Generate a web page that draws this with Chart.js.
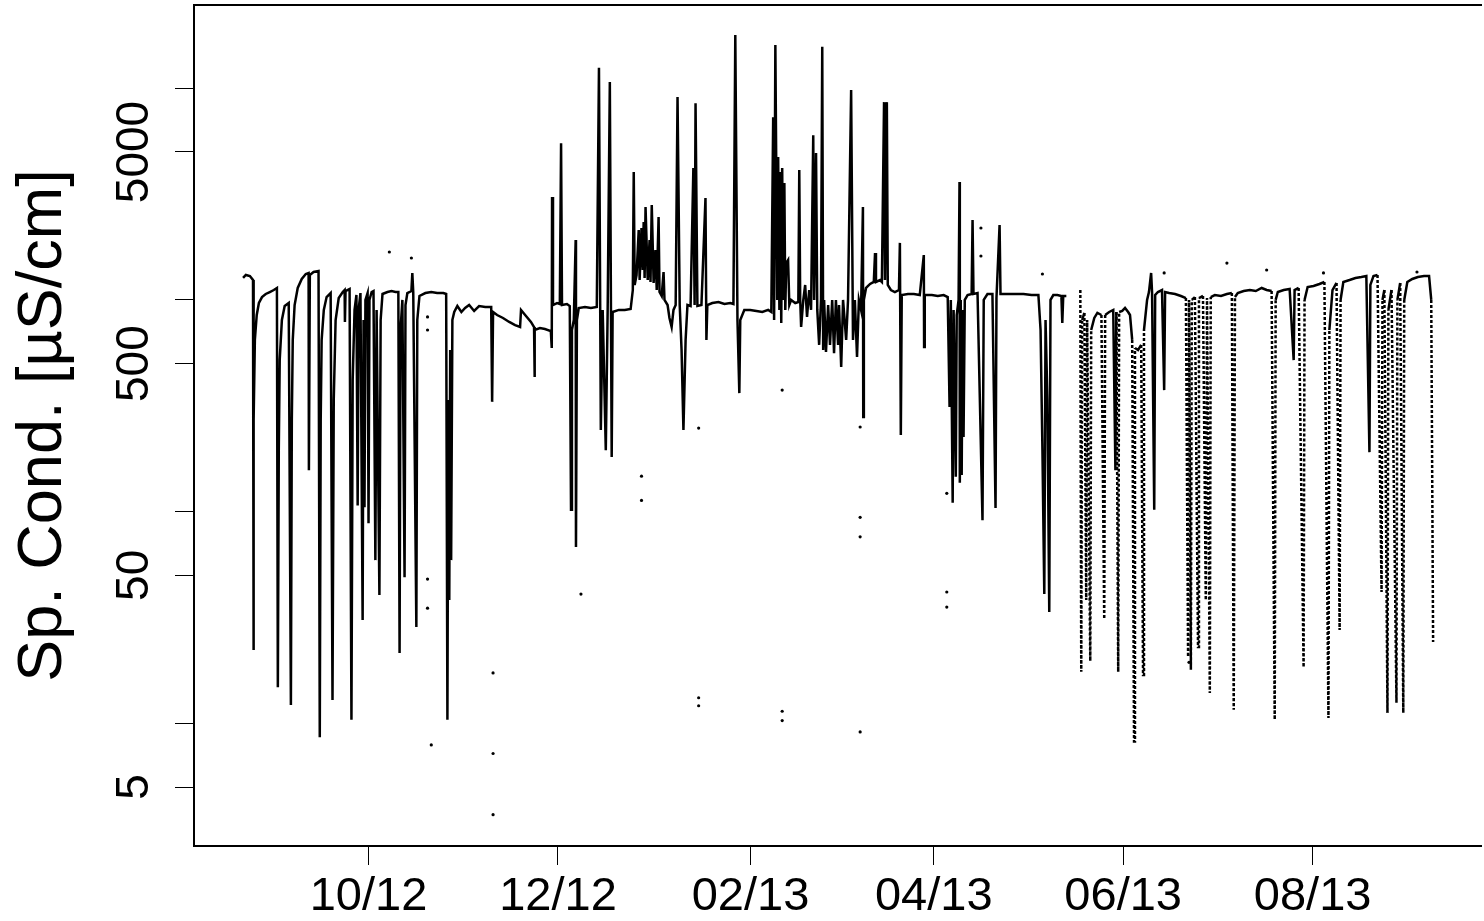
<!DOCTYPE html>
<html><head><meta charset="utf-8">
<script src="https://cdn.jsdelivr.net/npm/chart.js@4.4.1/dist/chart.umd.min.js"></script>
<style>html,body{margin:0;padding:0;background:#fff;overflow:hidden}canvas{display:block}</style>
</head><body>
<canvas id="c" width="1484" height="921"></canvas>
<script>
// x values: days since 2012-10-01; y values: specific conductance [µS/cm]
const tickDays = [0, 61, 123, 182, 243, 304];
const tickLabels = ['10/12', '12/12', '02/13', '04/13', '06/13', '08/13'];
const yTickValues = [5, 10, 50, 100, 500, 1000, 5000, 10000];
const yLabelValues = [5, 50, 500, 5000];

const autumnDays = [-40.4,-39.5,-38.2,-37.2,-37.1,-36.9,-36.6,-36.0,-35.3,-34.3,
-33.1,-31.8,-30.5,-29.5,-29.2,-28.9,-28.6,-27.9,-27.0,-25.7,
-25.0,-24.7,-24.4,-23.8,-22.8,-21.5,-20.2,-19.3,-19.2,-18.9,
-17.7,-16.1,-15.7,-15.4,-15.1,-14.4,-13.5,-12.2,-11.6,-11.2,
-10.6,-9.6,-8.3,-7.7,-7.6,-7.4,-6.1,-5.5,-5.1,-4.5,
-3.9,-3.5,-3.2,-2.6,-1.9,-1.6,-1.3,-1.0,-0.3,0,
0.3,1.0,1.6,2.2,2.6,3.5,3.9,4.5,6.1,7.4,
8.7,9.6,10.0,10.3,10.9,11.6,11.9,12.5,13.8,14.1,
14.4,15.4,15.7,16.4,18.3,20.2,22.1,24.1,25.0,25.4,
25.7,26.0,26.3,26.6,27.0,27.6,28.6,29.9,31.1,32.4,
34.0,35.6,37.6,39.5,39.8,40.1,41.4,43.3,45.3,47.2,
48.8,49.1,50.7,52.3,53.3,53.4,53.6,55.2,56.8,58.7];
const autumnSpc = [1270,1312,1297,1242,22.2,271,647,849,967,1032,
1067,1090,1114,1139,14.8,195,520,804,936,967,
12.2,271,647,946,1139,1256,1326,1341,157,1312,
1355,1370,8.6,271,647,897,1032,1078,12.9,337,
804,1021,1090,1114,787,1102,1127,10.4,419,897,
1055,107,897,1078,30.8,804,105,1000,1078,88,
1000,1090,1102,59,897,40.4,804,1067,1090,1102,
1090,1090,21.5,721,1000,49,946,1078,1102,1341,
1090,28.5,804,1044,1078,1090,1078,1078,1067,10.4,
337,38.2,580,59,804,877,936,877,916,946,
887,936,926,926,330,877,849,822,787,761,
745,897,840,787,745,432,721,737,729,713];

const winterDays = [59.0,59.1,59.4,60.7,61.6,62.0,62.3,63.9,64.8,65.2,
65.5,66.1,66.7,66.8,67.1,67.7,69.7,71.6,73.5,74.2,
74.8,75.4,76.4,77.0,77.7,78.3,78.6,80.6,82.5,84.4,
85.1,85.4,85.7,86.3,87.0,87.3,87.9,88.3,88.6,88.9,
89.2,89.9,90.5,90.8,91.2,91.8,92.4,92.8,93.4,93.7,
94.4,95.0,95.3,96.3,96.9,97.6,98.2,98.9,99.5,100.2,
100.8,101.4,102.1,102.7,103.7,104.6,105.0,105.3,105.9,107.2,
108.5,108.8,109.1,110.7,112.7,114.6,116.5,117.5,118.1,118.8,
119.4,119.7,121.0,122.9,124.9,126.8,128.7,129.7,130.3,130.6,
131.0,131.6,131.9,132.3,132.6,132.9,133.2,133.5,133.9,134.2,
134.5,135.1,135.5,136.1,137.4,138.4,138.7,139.0,139.3,140.0,
140.6,141.2,141.9,142.5,143.2,143.5,144.1,144.5,145.1,145.7,
146.1,146.4,146.7,147.3,148.0,148.6,149.3,149.9,150.5,151.2,
151.5,152.2,152.8,153.8,154.4,155.4,156.0,156.6,157.3,157.9,
158.6,159.2,159.3,159.5,160.2,161.5,162.7,163.1,163.4,164.7,
165.3,166.0,166.3,166.9,167.2,168.2,169.5,170.8];
const winterSpc = [593,3065,946,967,957,5500,946,957,936,102,
721,804,1920,68,804,916,926,916,926,12500,
243,897,195,897,10700,181,877,897,897,906,
1114,4020,1177,1312,2140,1242,2187,1385,2335,1270,
2750,1242,1920,1216,2810,1203,1722,1114,2465,1090,
1044,1355,1000,946,822,745,897,946,9100,946,
580,243,647,946,936,4200,946,8500,936,946,
3030,647,946,967,978,957,967,957,17850,804,
363,804,897,897,887,877,897,877,7300,804,
16000,1000,4730,897,4020,778,4200,1000,3570,897,
1494,1544,946,1000,967,978,4110,1000,745,1000,
1177,831,1114,897,6000,1000,4950,897,613,1000,
15700,580,1000,568,946,613,1000,561,1000,613,
946,482,1000,647,1000,9800,647,1000,538,1000,
897,2750,280,1000,1139,1190,1216,1667,1216,1242,
1216,8600,1242,8600,1177,1114,1090,1114];

const springDays = [171.1,171.4,171.7,173.7,175.6,177.5,178.8,178.9,179.1,181.4,
183.3,185.2,186.5,187.1,187.5,188.1,188.4,189.1,189.4,190.0,
190.3,190.4,190.7,191.0,191.3,191.6,192.0,192.9,194.2,194.5,
194.8,196.1,197.7,198.1,199.3,200.9,201.9,202.2,203.2,203.5,
205.8,208.3,210.9,213.5,215.7,216.4,217.0,217.6,218.0,218.6,
219.2,219.6,220.5,221.8,223.1,223.4,223.7,224.7];
const springSpc = [1860,230,1055,1067,1067,1055,1630,600,1055,1055,
1044,1055,1032,312,1000,110,897,146,849,1000,
3610,137,1000,149,897,225,1000,1055,1067,2385,
1067,1078,91,1000,1067,1067,104,1021,2260,1067,
1067,1067,1067,1055,1055,721,195,40.8,804,337,
33.6,1000,1055,1055,1044,778,1044,1044];

const summerDays = [229.2,229.5,229.8,230.5,231.1,231.4,232.4,232.7,233.7,234.7,
236.0,236.9,237.2,238.5,239.8,240.5,240.8,241.4,241.7,242.7,
243.6,244.6,245.2,245.9,246.5,246.8,247.8,248.8,249.4,249.7,
250.7,251.3,252.0,252.3,253.0,253.3,254.2,255.5,256.2,256.5,
257.8,259.7,261.6,263.2,263.9,264.2,264.8,265.1,266.1,267.1,
267.4,268.7,269.6,270.0,270.9,271.2,272.5,274.5,276.4,278.0,
278.6,279.0,279.9,281.8,283.8,285.7,287.6,289.2,290.8,291.8,
292.1,292.8,294.7,296.6,297.9,298.2,299.5,301.1,301.4,302.4,
304.3,306.2,307.8,309.1,309.4,310.4,311.7,312.7,313.0,313.9,
315.9,317.8,319.7,321.3,322.3,322.6,323.6,324.9,326.2,326.5,
327.1,328.1,328.4,329.4,331.0,331.3,332.2,333.2,333.5,334.5,
336.1,337.9,339.9,341.5,342.2,342.8];
const summerSpc = [1114,17.5,804,868,38.2,804,19.7,721,822,868,
849,31.1,849,877,897,157,877,17.5,877,887,
916,877,849,647,8.2,593,580,613,16.9,721,
1000,1090,1341,1090,102,1055,1090,1114,375,1090,
1078,1067,1044,1021,20.6,1000,17.9,1000,1032,22.9,
1021,1044,38.2,1021,13.9,1032,1055,1044,1067,1078,
11.6,1032,1078,1102,1114,1102,1139,1114,1102,10.4,
1000,1090,1114,1127,520,1114,1139,18.4,1000,1151,
1164,1190,1216,10.6,721,1114,1203,27.6,1000,1216,
1242,1270,1283,1297,191,1177,1297,1312,41.7,1000,
1114,11.2,897,1114,12.5,1000,1203,11.2,1000,1216,
1256,1283,1297,1297,1000,24.2];

const dotDays = [6.7,13.8,19.0,19.0,19.0,19.0,20.2,40.1,40.1,40.1,68.4,87.9,87.9,106.3,106.3,106.3,133.2,133.2,133.2,158.3,158.3,158.3,158.3,186.2,186.2,186.2,197.2,197.2,217.0,256.2,264.2,276.4,289.2,307.5,337.6];
const dotSpc = [1685,1578,831,721,48,35,7.9,17.3,7.2,3.7,40.8,147,113,248,13.2,12.1,375,11.4,10.3,251,94,76,9.1,41.7,35.4,122,2187,1613,1326,1341,19.4,1494,1385,1341,1355];

const FONT = "'Liberation Sans', Arial, Helvetica, sans-serif";
const xMin = -56.2, xMax = 357.9, yMin = 2.632, yMax = 24740;

function pairs(d, v) { return d.map((x, i) => ({x: x, y: v[i]})); }

const boxPlugin = {
  id: 'rbox',
  afterDraw(chart) {
    const {ctx, chartArea: a, scales} = chart;
    ctx.save();
    ctx.strokeStyle = '#000';
    ctx.lineWidth = 2;
    ctx.beginPath();
    ctx.moveTo(a.right + 2, a.top);
    ctx.lineTo(a.left, a.top);
    ctx.lineTo(a.left, a.bottom);
    ctx.lineTo(a.right + 2, a.bottom);
    ctx.stroke();
    ctx.fillStyle = '#000';
    ctx.font = '46px ' + FONT;
    ctx.textAlign = 'center';
    ctx.textBaseline = 'alphabetic';
    yLabelValues.forEach(v => {
      const y = scales.y.getPixelForValue(v);
      ctx.save();
      ctx.translate(148, y);
      ctx.rotate(-Math.PI / 2);
      ctx.fillText(String(v), 0, 0);
      ctx.restore();
    });
    ctx.restore();
  }
};

const lineStyle = {borderColor: '#000', borderWidth: 2.5, pointRadius: 0, tension: 0, fill: false, spanGaps: false};
// large, fast drops of the summer record were sampled sparsely: draw them dotted
const sparseDrop = {borderDash: c => {
  const a = c.p0.parsed.y, b = c.p1.parsed.y;
  return Math.abs(Math.log10(a / b)) > 1.2 ? [3, 2] : undefined;
}};

new Chart(document.getElementById('c'), {
  type: 'line',
  data: {
    datasets: [
      Object.assign({data: pairs(autumnDays.concat(winterDays, springDays), autumnSpc.concat(winterSpc, springSpc))}, lineStyle),
      Object.assign({data: pairs(summerDays, summerSpc), segment: sparseDrop}, lineStyle),
      {type: 'scatter', data: pairs(dotDays, dotSpc), pointRadius: 1.6, pointBackgroundColor: '#000', pointBorderWidth: 0, showLine: false}
    ]
  },
  options: {
    responsive: false,
    animation: false,
    devicePixelRatio: 1,
    layout: {padding: {top: 5, left: 0, right: 0, bottom: 0}},
    plugins: {legend: {display: false}, tooltip: {enabled: false}},
    scales: {
      x: {
        type: 'linear', position: 'bottom', min: xMin, max: xMax,
        afterBuildTicks: s => { s.ticks = tickDays.map(v => ({value: v})); },
        afterFit: s => { s.height = 75; s.paddingLeft = 0; s.paddingRight = 0; },
        ticks: {autoSkip: false, maxRotation: 0, minRotation: 0, padding: 4, color: '#000',
          font: {family: FONT, size: 47}, callback: (v, i) => tickLabels[i]},
        grid: {drawOnChartArea: false, drawTicks: true, tickLength: 19, color: '#000', lineWidth: 1},
        border: {display: false}
      },
      y: {
        type: 'logarithmic', position: 'left', min: yMin, max: yMax,
        afterBuildTicks: s => { s.ticks = yTickValues.map(v => ({value: v})); },
        afterFit: s => { s.width = 194; s.paddingTop = 0; s.paddingBottom = 0; },
        ticks: {display: false},
        grid: {drawOnChartArea: false, drawTicks: true, tickLength: 19, color: '#000', lineWidth: 1},
        border: {display: false},
        title: {display: true, text: 'Sp. Cond. [µS/cm]', color: '#000',
          font: {family: FONT, size: 63, lineHeight: 1.2}, padding: {top: 6, bottom: 0}}
      }
    }
  },
  plugins: [boxPlugin]
});
</script>
</body></html>
